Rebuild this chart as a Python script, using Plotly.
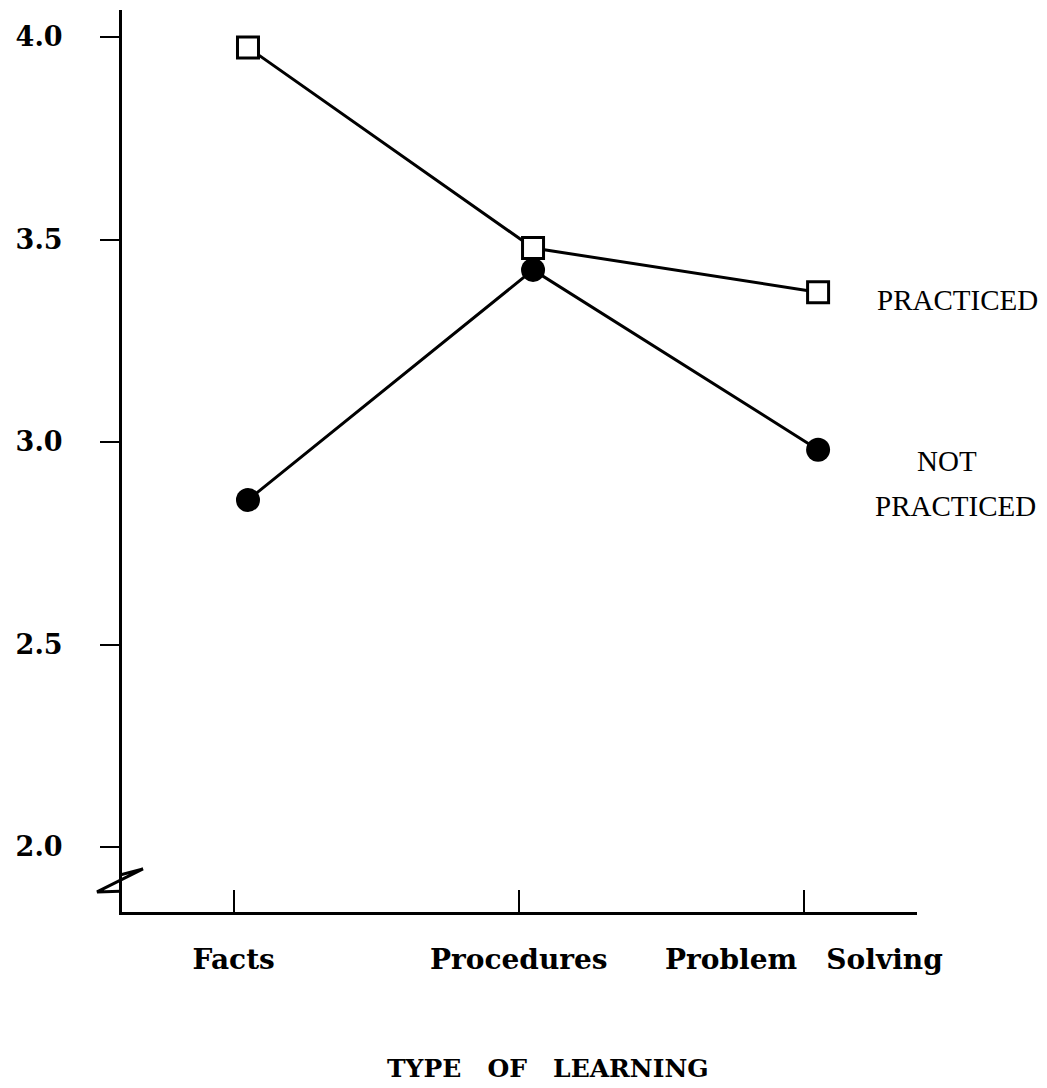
import plotly.graph_objects as go

categories = ["Facts", "Procedures", "Problem Solving"]
tick_labels = ["Facts", "Procedures", "Problem&nbsp;&nbsp;&nbsp;Solving"]
practiced = [3.974, 3.479, 3.37]
not_practiced = [2.857, 3.425, 2.981]
y_ticks = [2.0, 2.5, 3.0, 3.5, 4.0]
y_tick_text = ["2.0", "2.5", "3.0", "3.5", "4.0"]

x_idx = list(range(len(categories)))
tick_pos = [i - 0.05 for i in x_idx]

fig = go.Figure()
fig.add_trace(go.Scatter(
    x=x_idx, y=practiced, mode="lines+markers", name="PRACTICED",
    line=dict(color="black", width=3),
    marker=dict(symbol="square", size=21, color="white", line=dict(color="black", width=3)),
    cliponaxis=False,
))
fig.add_trace(go.Scatter(
    x=x_idx, y=not_practiced, mode="lines+markers", name="NOT PRACTICED",
    line=dict(color="black", width=3),
    marker=dict(symbol="circle", size=24, color="black"),
    cliponaxis=False,
))

serif = "Liberation Serif"
bold_serif = "DejaVu Serif"
fig.update_layout(
    width=1047, height=1088,
    margin=dict(l=114, r=138, t=2, b=184),
    paper_bgcolor="white", plot_bgcolor="white",
    showlegend=False,
    xaxis=dict(
        range=[-0.442, 2.347], automargin=False,
        tickvals=tick_pos, ticktext=tick_labels,
        ticks="inside", ticklen=22, tickwidth=2, tickcolor="black",
        showline=True, linewidth=3, linecolor="black",
        showgrid=False, zeroline=False,
        tickfont=dict(family=bold_serif, size=28, color="black", weight="bold"),
        ticklabelstandoff=20,
    ),
    yaxis=dict(
        range=[1.8395, 4.0667], automargin=False,
        tickvals=y_ticks, ticktext=y_tick_text,
        ticks="outside", ticklen=19, tickwidth=2, tickcolor="black",
        showline=True, linewidth=3, linecolor="black",
        showgrid=False, zeroline=False,
        tickfont=dict(family=bold_serif, size=27, color="black", weight="bold"),
        ticklabelstandoff=32,
    ),
)

fig.add_annotation(x=x_idx[-1], y=practiced[-1], text="PRACTICED", showarrow=False,
                   xshift=139, yshift=-8, font=dict(family=serif, size=29, color="black"))
fig.add_annotation(x=x_idx[-1], y=not_practiced[-1], text="NOT", showarrow=False,
                   xshift=129, yshift=-11, font=dict(family=serif, size=29, color="black"))
fig.add_annotation(x=x_idx[-1], y=not_practiced[-1], text="PRACTICED", showarrow=False,
                   xshift=137, yshift=-56, font=dict(family=serif, size=29, color="black"))
fig.add_annotation(x=0.536, y=-0.174, xref="paper", yref="paper",
                   xanchor="center", yanchor="middle",
                   text="TYPE&nbsp;&nbsp; OF&nbsp;&nbsp; LEARNING", showarrow=False,
                   font=dict(family=bold_serif, size=25, color="black", weight="bold"))

# axis break mark
fig.add_shape(type="path", xref="paper", yref="y",
              path="M -0.0025,1.931 L 0.0264,1.946 L -0.0314,1.889 L -0.0025,1.891",
              line=dict(color="black", width=3))

fig.write_html("out.html")
